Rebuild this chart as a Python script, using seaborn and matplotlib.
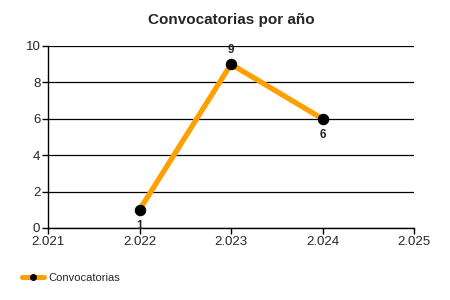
import matplotlib
matplotlib.use("Agg")
import matplotlib.pyplot as plt
import seaborn as sns
import pandas as pd
from matplotlib.ticker import FuncFormatter, FixedLocator
from matplotlib.lines import Line2D

years = [2022, 2023, 2024]
counts = [1, 9, 6]
series_name = "Convocatorias"
title = "Convocatorias por año"
x_ticks = [2021, 2022, 2023, 2024, 2025]
y_ticks = [0, 2, 4, 6, 8, 10]

sns.set_style("white")
plt.rcParams['font.family'] = ['Liberation Sans', 'DejaVu Sans']

df = pd.DataFrame({"year": years, "count": counts, "serie": series_name})

fig = plt.figure(figsize=(4.5, 3.0), dpi=100)
ax = fig.add_axes([48/450, 1-228/300, (414-48)/450, (228-46)/300])

sns.lineplot(data=df, x="year", y="count", hue="serie", palette=["#FFA000"],
             linewidth=3.8, marker="o", markersize=7.5, markerfacecolor="black",
             markeredgecolor="black", ax=ax, legend=False, zorder=3)

ax.set_xlim(2021, 2025)
ax.set_ylim(0, 10)
ax.xaxis.set_major_locator(FixedLocator(x_ticks))
ax.yaxis.set_major_locator(FixedLocator(y_ticks))
ax.xaxis.set_major_formatter(FuncFormatter(lambda v, p: f"{v/1000:.3f}"))
ax.grid(axis="y", color="black", linewidth=0.9)
ax.grid(axis="x", visible=False)
for s in ["top", "right"]:
    ax.spines[s].set_visible(False)
for s in ["left", "bottom"]:
    ax.spines[s].set_color("black")
    ax.spines[s].set_linewidth(1.0)
ax.tick_params(axis="both", which="major", length=4, width=1, color="black",
               labelsize=9.5, pad=1.5, direction="out", bottom=True, left=True)
ax.set_xlabel("")
ax.set_ylabel("")
ax.set_title(title, fontsize=11, fontweight="bold", pad=16)

for x, y in zip(years, counts):
    if y == max(counts):
        ax.annotate(str(y), (x, y), xytext=(0, 6), textcoords="offset points",
                    ha="center", va="bottom", fontsize=8.5, fontweight="bold")
    else:
        ax.annotate(str(y), (x, y), xytext=(0, -7), textcoords="offset points",
                    ha="center", va="top", fontsize=8.5, fontweight="bold")

handle = Line2D([], [], color="#FFA000", linewidth=3.6, marker="o",
                markersize=4, markerfacecolor="black", markeredgecolor="black")
fig.legend([handle], [series_name], loc="center left", bbox_to_anchor=(22/450, 1-278/300),
           frameon=False, fontsize=8, handlelength=2.0, handletextpad=0.35,
           borderpad=0, borderaxespad=0)

fig.savefig("out.png", dpi=100)
